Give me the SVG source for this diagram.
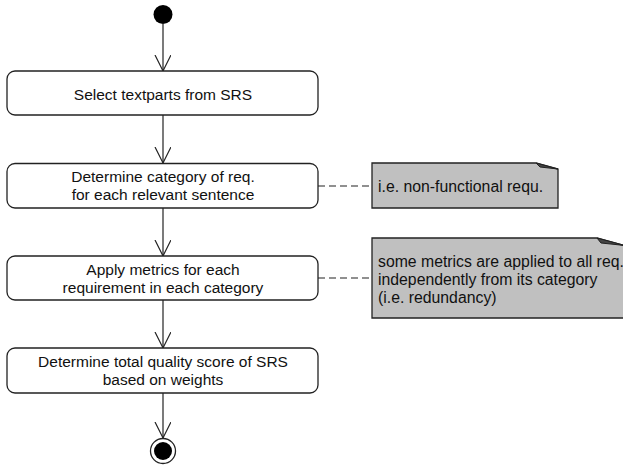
<svg xmlns="http://www.w3.org/2000/svg" width="623" height="471" viewBox="0 0 623 471">
<defs>
<style>
.box{fill:#fff;stroke:#222;stroke-width:1.3}
.note{fill:#c0c0c0;stroke:#222;stroke-width:1.3}
.fold{fill:#444;stroke:#222;stroke-width:1}
.t{font-family:"Liberation Sans",Arial,sans-serif;font-size:15.5px;fill:#111;text-anchor:middle}
.n{font-family:"Liberation Sans",Arial,sans-serif;font-size:15.8px;fill:#111}
.flow{stroke:#222;stroke-width:1.2;fill:none}
.dash{stroke:#222;stroke-width:1.2;fill:none;stroke-dasharray:7,4}
</style>
<marker id="arr" markerWidth="20" markerHeight="20" refX="16" refY="8" orient="auto" markerUnits="userSpaceOnUse">
<path d="M0,0 L16,8 L0,16" fill="none" stroke="#222" stroke-width="1.2"/>
</marker>
</defs>
<g id="connectors">
<line class="flow" x1="163" y1="24" x2="163" y2="71" marker-end="url(#arr)"/>
<line class="flow" x1="163" y1="115" x2="163" y2="163" marker-end="url(#arr)"/>
<line class="flow" x1="163" y1="208" x2="163" y2="256" marker-end="url(#arr)"/>
<line class="flow" x1="163" y1="300" x2="163" y2="348" marker-end="url(#arr)"/>
<line class="flow" x1="163" y1="393" x2="163" y2="438" marker-end="url(#arr)"/>
<line class="dash" x1="318" y1="186" x2="372" y2="186"/>
<line class="dash" x1="318" y1="278" x2="372" y2="278"/>
</g>
<g id="start"><circle cx="163" cy="14.5" r="9.5" fill="#000"/></g>
<g id="n1">
<rect class="box" x="7" y="71" width="311" height="44" rx="8"/>
<text class="t" x="163" y="99.5">Select textparts from SRS</text>
</g>
<g id="n2">
<rect class="box" x="7" y="163.5" width="311" height="44.5" rx="8"/>
<text class="t" x="163" y="181.5">Determine category of req.</text>
<text class="t" x="163" y="200">for each relevant sentence</text>
</g>
<g id="n3">
<rect class="box" x="7" y="256" width="311" height="44" rx="8"/>
<text class="t" x="163" y="274.5">Apply metrics for each</text>
<text class="t" x="163" y="293">requirement in each category</text>
</g>
<g id="n4">
<rect class="box" x="7" y="348" width="311" height="45" rx="8"/>
<text class="t" x="163" y="366.5">Determine total quality score of SRS</text>
<text class="t" x="163" y="385">based on weights</text>
</g>
<g id="end">
<circle cx="163" cy="451" r="12.5" fill="#fff" stroke="#222" stroke-width="1.3"/>
<circle cx="163" cy="451" r="9" fill="#000"/>
</g>
<g id="note1">
<path class="note" d="M372,163 L536,163 L558,169 L558,208 L372,208 Z"/>
<path class="fold" d="M536,163 L558,169 L540,167 Z"/>
<text class="n" x="378" y="192">i.e. non-functional requ.</text>
</g>
<g id="note2">
<path class="note" d="M372,238 L597,238 L640,250 L640,318 L372,318 Z"/>
<path class="fold" d="M597,238 L625,245.5 L601,243 Z"/>
<text class="n" x="378" y="267">some metrics are applied to all req.</text>
<text class="n" x="378" y="285">independently from its category</text>
<text class="n" x="378" y="303">(i.e. redundancy)</text>
</g>
</svg>
